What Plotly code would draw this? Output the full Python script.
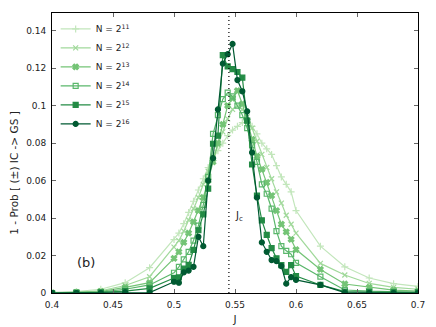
import plotly.graph_objects as go

# coupling values J (coarse far from the transition, fine near it)
J = [0.40, 0.42, 0.44, 0.46, 0.48,
     0.500, 0.504, 0.508, 0.512, 0.516, 0.520, 0.524, 0.528, 0.532, 0.536,
     0.540, 0.544, 0.548, 0.552, 0.556, 0.560, 0.564, 0.568, 0.572, 0.576,
     0.580, 0.584, 0.588, 0.592, 0.596, 0.600,
     0.62, 0.64, 0.66, 0.68, 0.70]

p_n11 = [0.0003, 0.0008, 0.002, 0.0055, 0.0135,
         0.0285, 0.032, 0.037, 0.043, 0.049, 0.055, 0.061, 0.067, 0.072, 0.076,
         0.080, 0.084, 0.087, 0.089, 0.091, 0.091, 0.089, 0.085, 0.080, 0.077,
         0.074, 0.068, 0.062, 0.058, 0.054, 0.044,
         0.025, 0.014, 0.008, 0.005, 0.0035]

p_n12 = [0.0002, 0.0004, 0.0012, 0.004, 0.0087,
         0.0245, 0.028, 0.033, 0.039, 0.045, 0.051, 0.058, 0.065, 0.072, 0.079,
         0.086, 0.093, 0.098, 0.100, 0.098, 0.094, 0.088, 0.081, 0.074, 0.067,
         0.061, 0.054, 0.048, 0.0415, 0.0367, 0.032,
         0.0158, 0.0096, 0.0051, 0.003, 0.002]

p_n13 = [0.0001, 0.0003, 0.0008, 0.003, 0.0055,
         0.0185, 0.022, 0.027, 0.032, 0.038, 0.044, 0.051, 0.060, 0.070, 0.080,
         0.090, 0.100, 0.104, 0.108, 0.101, 0.092, 0.082, 0.073, 0.066, 0.059,
         0.052, 0.044, 0.0367, 0.0326, 0.0286, 0.0232,
         0.0126, 0.0048, 0.003, 0.0015, 0.001]

p_n14 = [0.0, 0.0002, 0.0005, 0.002, 0.0043,
         0.0108, 0.014, 0.018, 0.022, 0.028, 0.036, 0.047, 0.062, 0.085, 0.095,
         0.1035, 0.107, 0.105, 0.100, 0.095, 0.088, 0.079, 0.070, 0.058, 0.053,
         0.045, 0.033, 0.025, 0.0225, 0.0207, 0.0161,
         0.0087, 0.0016, 0.001, 0.0006, 0.0004]

p_n15 = [0.0, 0.0001, 0.0003, 0.001, 0.0025,
         0.008, 0.0083, 0.013, 0.015, 0.023, 0.0335, 0.042, 0.0557, 0.0797, 0.084,
         0.127, 0.121, 0.1195, 0.118, 0.115, 0.092, 0.0686, 0.052, 0.0388, 0.031,
         0.024, 0.0185, 0.0149, 0.0113, 0.0149, 0.009,
         0.0043, 0.0007, 0.0005, 0.0004, 0.0003]

p_n16 = [0.0, 0.0, 0.0, 0.0003, 0.0002,
         0.006, 0.0055, 0.011, 0.012, 0.014, 0.030, 0.025, 0.060, 0.072, 0.098,
         0.1225, 0.1275, 0.133, 0.1137, 0.1077, 0.097, 0.075, 0.051, 0.027, 0.022,
         0.0176, 0.017, 0.0144, 0.005, 0.0085, 0.007,
         0.0043, 0.0002, 0.0, 0.0, 0.0]

labels = ["N = 2<sup>11</sup>", "N = 2<sup>12</sup>", "N = 2<sup>13</sup>",
          "N = 2<sup>14</sup>", "N = 2<sup>15</sup>", "N = 2<sup>16</sup>"]
series = [p_n11, p_n12, p_n13, p_n14, p_n15, p_n16]
colors = ["#c2e6bb", "#a1d99b", "#74c476", "#5ab76b", "#238b45", "#005a32"]
symbols = ["cross-thin-open", "x-thin-open", "x", "square-open", "square", "circle"]

x_ticks = [0.4, 0.45, 0.5, 0.55, 0.6, 0.65, 0.7]
y_ticks = [0, 0.02, 0.04, 0.06, 0.08, 0.1, 0.12, 0.14]

J_c = 0.545

fig = go.Figure()
for name, vals, col, sym in zip(labels, series, colors, symbols):
    fig.add_trace(go.Scatter(
        x=J, y=vals, name=name, mode="lines+markers",
        line=dict(color=col, width=1.2),
        marker=dict(symbol=sym, size=5, color=col, line=dict(color=col, width=1.2)),
    ))

# critical coupling marker
fig.add_vline(x=J_c, line=dict(color="black", width=1.2, dash="1px,3px"))
fig.add_annotation(x=0.553, y=0.041, text="J<sub>c</sub>", showarrow=False,
                   font=dict(size=10, color="#222"))
fig.add_annotation(x=0.428, y=0.0165, text="(b)", showarrow=False,
                   font=dict(size=13, color="#222"))
# y label as annotation: sits a little below the plot centre like the original
fig.add_annotation(xref="paper", yref="paper", x=-0.128, y=0.43,
                   text="1 - Prob [ (±) IC -> GS ]", textangle=-90, showarrow=False,
                   font=dict(size=10.5, color="#222"))

axis_common = dict(showline=True, linecolor="black", linewidth=1, mirror="ticks",
                   ticks="inside", ticklen=4, tickcolor="#666", showgrid=False,
                   zeroline=False, tickfont=dict(size=9, color="#222"))

fig.update_xaxes(range=[0.4, 0.7], tickvals=x_ticks,
                 ticktext=[str(v) for v in x_ticks], ticklabelstandoff=3,
                 title=dict(text="J", font=dict(size=10.5), standoff=6), **axis_common)
fig.update_yaxes(range=[0, 0.1495], tickvals=y_ticks,
                 ticktext=[str(v) if v else "0" for v in y_ticks], ticklabelstandoff=3,
                 **axis_common)

# page body adds ~8px offset, so the figure is a bit smaller than the window
fig.update_layout(
    width=428, height=319,
    margin=dict(l=44, r=18, t=4, b=26),
    paper_bgcolor="white", plot_bgcolor="white",
    font=dict(family="DejaVu Sans", color="#222"),
    showlegend=True,
    legend=dict(x=0.01, y=0.995, xanchor="left", yanchor="top",
                bgcolor="rgba(0,0,0,0)", font=dict(size=9),
                tracegroupgap=0, itemwidth=30),
)

fig.write_html("out.html")
